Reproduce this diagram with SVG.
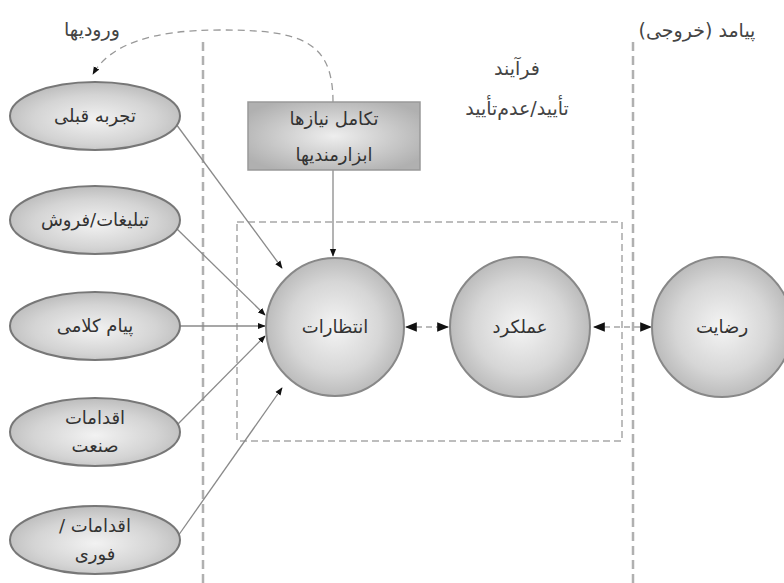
<svg xmlns="http://www.w3.org/2000/svg" width="784" height="583" viewBox="0 0 784 583">
  <defs>
    <radialGradient id="ball" cx="50%" cy="50%" r="55%">
      <stop offset="0" stop-color="#f4f4f4"/>
      <stop offset="0.6" stop-color="#d6d6d6"/>
      <stop offset="1" stop-color="#b4b4b4"/>
    </radialGradient>
    <radialGradient id="oval" cx="50%" cy="55%" r="60%">
      <stop offset="0" stop-color="#f2f2f2"/>
      <stop offset="0.6" stop-color="#d4d4d4"/>
      <stop offset="1" stop-color="#b6b6b6"/>
    </radialGradient>
    <radialGradient id="boxfill" cx="50%" cy="50%" r="60%">
      <stop offset="0" stop-color="#eeeeee"/>
      <stop offset="1" stop-color="#b0b0b0"/>
    </radialGradient>
    <marker id="head" viewBox="0 0 10 10" refX="9" refY="5" markerWidth="6" markerHeight="6" orient="auto">
      <path d="M0,1 L10,5 L0,9 z" fill="#111"/>
    </marker>
    <marker id="tail" viewBox="0 0 10 10" refX="1" refY="5" markerWidth="6" markerHeight="6" orient="auto">
      <path d="M10,1 L0,5 L10,9 z" fill="#111"/>
    </marker>
  </defs>
  <style>
    text { font-family: "DejaVu Sans", "Noto Sans", sans-serif; fill: #333; text-anchor: middle; direction: rtl; unicode-bidi: embed; }
    .lbl { font-size: 18px; }
    .cap { font-size: 19px; fill: #444; }
    .node-oval { fill: url(#oval); stroke: #777; stroke-width: 2; }
    .node-ball { fill: url(#ball); stroke: #888; stroke-width: 2; }
    .zone { fill: none; stroke: #b0b0b0; stroke-width: 2.5; stroke-dasharray: 9 5; }
    .frame { fill: none; stroke: #a8a8a8; stroke-width: 1.5; stroke-dasharray: 7 4; }
    .link { fill: none; stroke: #8a8a8a; stroke-width: 1.3; marker-end: url(#head); }
    .loop { fill: none; stroke: #999; stroke-width: 1.3; stroke-dasharray: 7 5; marker-end: url(#head); }
    .pair { fill: none; stroke: #bbb; stroke-width: 2; stroke-dasharray: 6 4; marker-start: url(#tail); marker-end: url(#head); }
  </style>

  <rect width="784" height="583" fill="#ffffff"/>

  <!-- zone separators -->
  <g id="zones">
    <line class="zone" x1="203" y1="42" x2="203" y2="583"/>
    <line class="zone" x1="633" y1="42" x2="633" y2="583"/>
    <rect class="frame" x="237" y="222" width="385" height="219"/>
  </g>

  <!-- captions -->
  <g id="captions">
    <text class="cap" x="92" y="36">ورودیها</text>
    <text class="cap" x="697" y="37">پیامد (خروجی)</text>
    <text class="cap" x="517" y="75">فرآیند</text>
    <text class="cap" x="517" y="115">تأیید/عدم‌تأیید</text>
  </g>

  <!-- connectors -->
  <g id="connectors">
    <path class="loop" d="M333,102 C333,40 300,30 220,30 C150,30 110,45 93,74"/>
    <line class="link" x1="333" y1="170" x2="333" y2="256"/>
    <line class="link" x1="176" y1="124" x2="282" y2="268"/>
    <line class="link" x1="176" y1="228" x2="265" y2="315"/>
    <line class="link" x1="180" y1="326" x2="265" y2="326"/>
    <line class="link" x1="176" y1="426" x2="265" y2="336"/>
    <line class="link" x1="178" y1="536" x2="282" y2="388"/>
    <line class="pair" x1="406" y1="327" x2="448" y2="327"/>
    <line class="pair" x1="594" y1="327" x2="651" y2="327"/>
  </g>

  <!-- input ovals -->
  <g id="prior-experience">
    <ellipse class="node-oval" cx="95" cy="116" rx="85" ry="34"/>
    <text class="lbl" x="95" y="122">تجربه قبلی</text>
  </g>
  <g id="advertising">
    <ellipse class="node-oval" cx="95" cy="220" rx="85" ry="34"/>
    <text class="lbl" x="95" y="226">تبلیغات/فروش</text>
  </g>
  <g id="word-of-mouth">
    <ellipse class="node-oval" cx="95" cy="326" rx="85" ry="34"/>
    <text class="lbl" x="95" y="332">پیام کلامی</text>
  </g>
  <g id="industry-practice">
    <ellipse class="node-oval" cx="95" cy="432" rx="85" ry="34"/>
    <text class="lbl" x="95" y="424">اقدامات</text>
    <text class="lbl" x="95" y="452">صنعت</text>
  </g>
  <g id="immediate-practice">
    <ellipse class="node-oval" cx="95" cy="540" rx="85" ry="34"/>
    <text class="lbl" x="95" y="532">اقدامات /</text>
    <text class="lbl" x="95" y="560">فوری</text>
  </g>

  <!-- needs box -->
  <g id="needs">
    <rect x="248" y="102" width="172" height="68" fill="url(#boxfill)" stroke="#999" stroke-width="1.5"/>
    <text class="lbl" x="334" y="125">تکامل نیازها</text>
    <text class="lbl" x="334" y="161">ابزارمندیها</text>
  </g>

  <!-- process circles -->
  <g id="expectations">
    <circle class="node-ball" cx="335" cy="327" r="69"/>
    <text class="lbl" x="335" y="333">انتظارات</text>
  </g>
  <g id="performance">
    <circle class="node-ball" cx="520" cy="327" r="70"/>
    <text class="lbl" x="520" y="333">عملکرد</text>
  </g>
  <g id="satisfaction">
    <circle class="node-ball" cx="722" cy="327" r="70"/>
    <text class="lbl" x="722" y="333">رضایت</text>
  </g>
</svg>
